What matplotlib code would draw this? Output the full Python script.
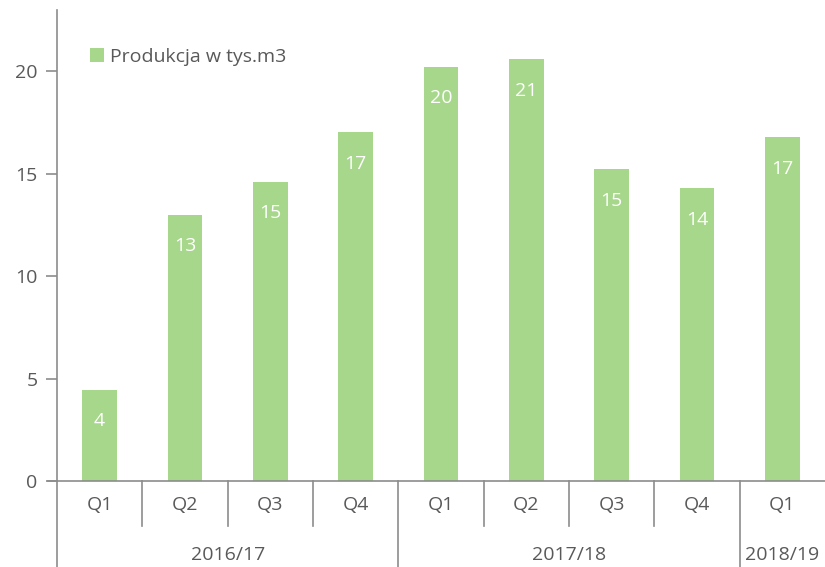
import matplotlib.pyplot as plt
from matplotlib.transforms import blended_transform_factory

KWARTALY = ["Q1", "Q2", "Q3", "Q4", "Q1", "Q2", "Q3", "Q4", "Q1"]
PRODUKCJA = [4.44, 12.98, 14.59, 17.02, 20.24, 20.59, 15.22, 14.29, 16.78]
ETYKIETY = ["4", "13", "15", "17", "20", "21", "15", "14", "17"]
LATA = ["2016/17", "2017/18", "2018/19"]
LATA_ZAKRES = [(0, 3), (4, 7), (8, 8)]

ZIELONY = "#A6D78A"
SZARY = "#8C8C8C"
TEKST = "#595959"
FS = 14

plt.rcParams["font.family"] = ["Open Sans", "DejaVu Sans"]

fig = plt.figure(figsize=(8.25, 5.67), dpi=100)
ax = fig.add_axes([57 / 825, (567 - 481) / 567, (825 - 57) / 825, (481 - 10) / 567])

x = list(range(len(PRODUKCJA)))
bars = ax.bar(x, PRODUKCJA, width=0.41, color=ZIELONY, label="Produkcja w tys.m3")
ax.bar_label(bars, labels=ETYKIETY, padding=-29, color="white", fontsize=FS)

ax.set_xlim(-0.5, len(x) - 0.5)
ax.set_ylim(0, 23)
ax.set_yticks([0, 5, 10, 15, 20])
ax.tick_params(axis="y", colors=SZARY, labelcolor=TEKST, labelsize=FS, length=8, width=1.2, pad=6)
ax.set_xticks([])
for s in ["top", "right"]:
    ax.spines[s].set_visible(False)
for s in ["left", "bottom"]:
    ax.spines[s].set_color(SZARY)
    ax.spines[s].set_linewidth(1.2)

# wielopoziomowa oś X
tr = blended_transform_factory(ax.transData, ax.transAxes)
krotka, dluga = -0.0955, -0.183
ax.plot([-0.5, -0.5], [0, dluga], transform=tr, color=SZARY, lw=1.2, clip_on=False)
for i, q in enumerate(KWARTALY):
    ax.text(i, -0.051, q, transform=tr, ha="center", va="center", color=TEKST, fontsize=FS)
for rok, (a, b) in zip(LATA, LATA_ZAKRES):
    for i in range(a, b):
        ax.plot([i + 0.5, i + 0.5], [0, krotka], transform=tr, color=SZARY, lw=1.2, clip_on=False)
    if b < len(x) - 1:
        ax.plot([b + 0.5, b + 0.5], [0, dluga], transform=tr, color=SZARY, lw=1.2, clip_on=False)
    ax.text((a + b) / 2, -0.158, rok, transform=tr, ha="center", va="center", color=TEKST, fontsize=FS)
ax.plot([-0.5 - 0.1, -0.5], [0, 0], transform=tr, color=SZARY, lw=1.2, clip_on=False)

ax.legend(loc="center left", bbox_to_anchor=(0.043, 0.90), frameon=False, fontsize=FS,
          handlelength=0.7, handleheight=0.7, handletextpad=0.35, labelcolor=TEKST,
          borderaxespad=0, borderpad=0)

fig.savefig("out.png", dpi=100)
